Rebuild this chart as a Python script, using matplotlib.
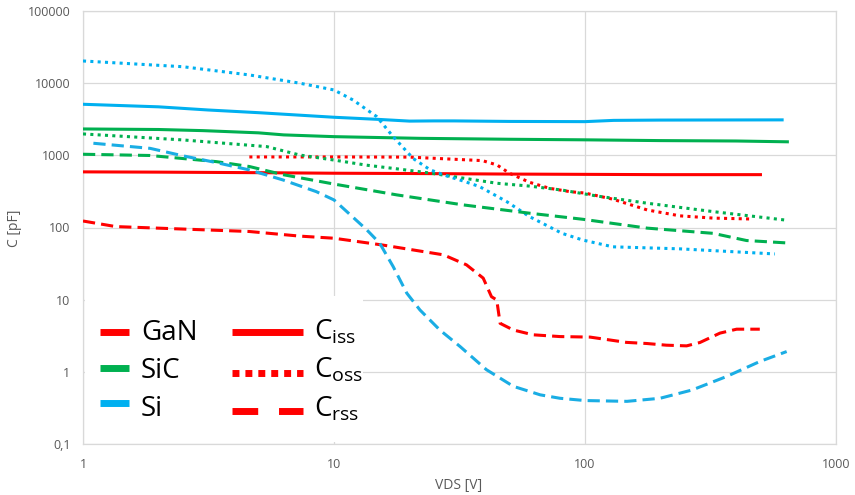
import matplotlib
matplotlib.use('Agg')
import matplotlib.pyplot as plt
from matplotlib.patches import Rectangle

plt.rcParams['font.family'] = ['Open Sans', 'DejaVu Sans']

# colours (Excel standard)
RED = '#FF0000'
GREEN = '#00B050'
BLUE = '#00B0F0'

# ---- data, V in volts, C in pF ----
gan_ciss_v = [1, 2, 5, 10, 20, 50, 100, 200, 500]
gan_ciss_c = [590, 585, 575, 565, 560, 550, 545, 540, 540]

sic_ciss_v = [1, 2, 3, 5, 6.3, 10, 22, 50, 100, 200, 400, 640]
sic_ciss_c = [2320, 2280, 2200, 2050, 1920, 1815, 1720, 1670, 1640, 1600, 1580, 1540]

si_ciss_v = [1, 2, 3.15, 5, 10, 15, 20, 25, 30, 50, 100, 130, 200, 610]
si_ciss_c = [5100, 4700, 4250, 3900, 3370, 3150, 2980, 3000, 3000, 2950, 2930, 3050, 3080, 3100]

gan_coss_v = [4.6, 10, 20, 39, 44.6, 50, 60, 72, 87, 100, 129, 177, 239, 324, 467]
gan_coss_c = [950, 950, 945, 845, 736, 565, 424, 350, 314, 300, 247, 175, 145, 135, 131]

sic_coss_v = [1, 2.5, 5.4, 7.3, 10, 13.5, 17.8, 24, 44.6, 60, 81, 111, 177, 324, 626]
sic_coss_c = [1980, 1635, 1320, 1010, 860, 730, 650, 570, 410, 375, 330, 274, 217, 166, 127]

si_coss_v = [1, 2.5, 4.6, 7.3, 10, 11.9, 14.8, 17.2, 20.7, 24.2, 28.1, 32.6, 38, 48.8,
             60, 81, 98, 129, 239, 571]
si_coss_c = [20300, 16900, 13000, 10000, 8050, 5850, 3440, 1815, 900, 628, 519, 442, 369, 228,
             142, 83, 67, 54, 50.6, 43]

gan_crss_v = [1, 1.35, 4.6, 7.3, 10, 15.7, 27.3, 33.7, 39.3, 42.4, 44.5, 45.9, 51.8, 62.1,
              79.5, 104.7, 125, 146, 176, 211, 254, 287, 345, 402, 497]
gan_crss_c = [123, 103, 88, 76, 71, 57, 41.8, 30.4, 19.9, 11.0, 9.9, 4.7, 3.8, 3.26,
              3.08, 3.03, 2.77, 2.56, 2.47, 2.34, 2.29, 2.55, 3.44, 3.9, 3.9]

sic_crss_v = [1, 1.85, 3.4, 4.6, 6.26, 10, 17.8, 32.6, 60, 98, 177, 324, 440, 644]
sic_crss_c = [1035, 995, 818, 700, 540, 400, 283, 206, 158, 130, 98, 83, 66, 61]

si_crss_v = [1.1, 1.85, 2.5, 3.4, 4.6, 6.26, 8.5, 10, 13.5, 15.2, 17.2, 19.5, 22, 26.4, 31.8,
             40.5, 51.8, 66.3, 79.5, 100, 147, 199, 267, 366, 497, 636]
si_crss_c = [1470, 1250, 985, 793, 628, 456, 314, 241, 93, 60.7, 28.8, 12.3, 7.2, 3.8, 2.24,
             1.07, 0.63, 0.48, 0.43, 0.40, 0.39, 0.43, 0.56, 0.86, 1.39, 1.91]

x_ticks = [1, 10, 100, 1000]
x_tick_labels = ['1', '10', '100', '1000']
y_ticks = [0.1, 1, 10, 100, 1000, 10000, 100000]
y_tick_labels = ['0,1', '1', '10', '100', '1000', '10000', '100000']

# ---- figure ----
fig = plt.figure(figsize=(8.55, 4.95), dpi=100)
ax = fig.add_axes([83 / 855, 1 - 444 / 495, 753 / 855, 433 / 495])

LW = 2.2
dotted = (0, (1, 1.4))
dashed = (0, (4, 2))

def curve(v, c, color, ls):
    ax.plot(v, c, color=color, lw=LW, linestyle=ls, dash_capstyle='butt', zorder=3)

curve(gan_ciss_v, gan_ciss_c, RED, '-')
curve(sic_ciss_v, sic_ciss_c, GREEN, '-')
curve(si_ciss_v, si_ciss_c, BLUE, '-')
curve(gan_coss_v, gan_coss_c, RED, dotted)
curve(sic_coss_v, sic_coss_c, GREEN, dotted)
curve(si_coss_v, si_coss_c, BLUE, dotted)
curve(gan_crss_v, gan_crss_c, RED, dashed)
curve(sic_crss_v, sic_crss_c, GREEN, dashed)
curve(si_crss_v, si_crss_c, '#1AADE4', dashed)

ax.set_xscale('log')
ax.set_yscale('log')
ax.set_xlim(1, 1000)
ax.set_ylim(0.1, 100000)
ax.set_xticks(x_ticks, labels=x_tick_labels)
ax.set_yticks(y_ticks, labels=y_tick_labels)
ax.minorticks_off()
ax.tick_params(length=0, labelsize=9, colors='#595959')
ax.tick_params(axis='x', pad=10)
ax.tick_params(axis='y', pad=9)
ax.grid(True, color='#D9D9D9', lw=0.9)
ax.set_axisbelow(True)
for s in ax.spines.values():
    s.set_color('#D9D9D9')
    s.set_linewidth(0.9)

fig.text(15 / 855, 1 - 228 / 495, 'C [pF]', rotation=90, ha='center', va='center',
         fontsize=10, color='#595959')
fig.text(459 / 855, 1 - 485 / 495, 'VDS [V]', ha='center', va='center',
         fontsize=10, color='#595959')

# ---- legend drawn by hand, white box over the grid ----
T = ax.transAxes
ax.add_patch(Rectangle((0.003, 0.005), 0.369, 0.337, transform=T, facecolor='white',
                       edgecolor='none', zorder=2))

def px2ax(px, py):
    return (px - 83) / 753, (444 - py) / 433

rows1 = [('GaN', RED, 331.7, 340), ('SiC', GREEN, 368, 378), ('Si', BLUE, 403, 416)]
for name, col, yh, yb in rows1:
    x0, y0 = px2ax(100, yh)
    x1, _ = px2ax(129, yh)
    ax.plot([x0, x1], [y0, y0], transform=T, color=col, lw=5, solid_capstyle='butt', zorder=4)
    tx, ty = px2ax(141, yb)
    ax.text(tx, ty, name, transform=T, fontsize=20, va='baseline', ha='left', zorder=4)

rows2 = [(r'$\mathregular{C_{iss}}$', '-', 331.7, 340),
         (r'$\mathregular{C_{oss}}$', (0, (1, 0.86)), 372.7, 378),
         (r'$\mathregular{C_{rss}}$', (0, (3.7, 3.0)), 410.7, 416.5)]
for name, ls, yh, yb in rows2:
    x0, y0 = px2ax(232, yh)
    x1, _ = px2ax(303, yh)
    ax.plot([x0, x1], [y0, y0], transform=T, color=RED, lw=5, linestyle=ls,
            solid_capstyle='butt', dash_capstyle='butt', zorder=4)
    tx, ty = px2ax(314, yb)
    ax.text(tx, ty, name, transform=T, fontsize=20, va='baseline', ha='left', zorder=4)

fig.savefig('out.png', dpi=100)
